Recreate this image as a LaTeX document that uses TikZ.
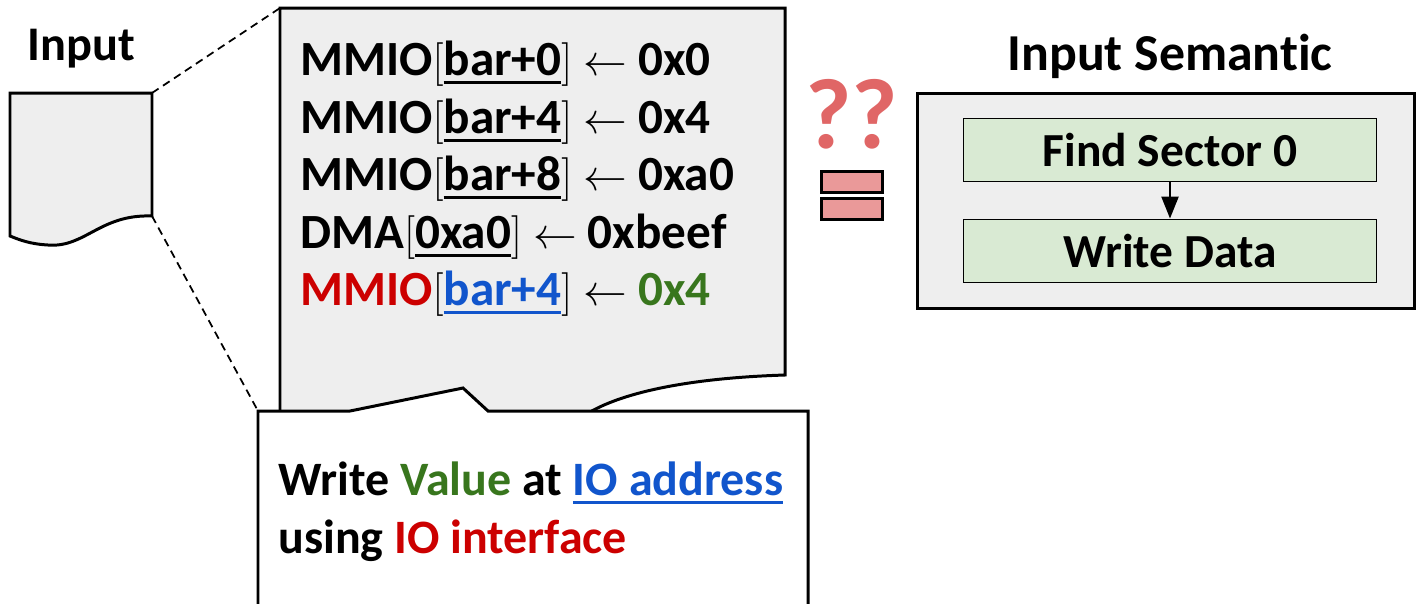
\documentclass[tikz,border=0pt]{standalone}
\usepackage{fontspec}
\setmainfont{Carlito}[Ligatures=NoCommon]
\usepackage{xcolor}
\usetikzlibrary{arrows.meta,positioning}

\definecolor{docgray}{HTML}{EEEEEE}
\definecolor{stepgreen}{HTML}{D9EAD3}
\definecolor{ifred}{HTML}{CC0000}
\definecolor{valgreen}{HTML}{38761D}
\definecolor{addrblue}{HTML}{1155CC}
\definecolor{askred}{HTML}{E06666}
\definecolor{eqred}{HTML}{EA9999}

% thick underline for addresses
\newcommand{\addr}[1]{\setbox0=\hbox{#1}\rlap{\rule[-5.3pt]{\wd0}{1.7pt}}\box0}
\newcommand{\iowrite}{\ $\leftarrow$\ }

\tikzset{
    doc/.style = {draw=black, fill=docgray, line width=1.7pt},
    callout/.style = {draw=black, fill=white, line width=1.7pt},
    zoom-line/.style = {draw=black, dash pattern=on 4.5pt off 3pt, line width=1pt},
    io-line/.style = {anchor=base west, inner sep=0pt, font=\fontsize{28}{32}\selectfont\bfseries},
    hint-line/.style = {anchor=base west, inner sep=0pt, font=\fontsize{27.3}{32}\selectfont\bfseries},
    title/.style = {anchor=base, inner sep=0pt, font=\fontsize{27.5}{32}\selectfont\bfseries},
    sem-step/.style = {draw=black, fill=stepgreen, line width=1.1pt, minimum width=413*0.02cm, minimum height=63*0.02cm, font=\fontsize{27}{30}\selectfont\bfseries},
    eq-bar/.style = {draw=black, fill=eqred, line width=1.7pt},
}

\begin{document}
\begin{tikzpicture}[x=0.02cm, y=-0.02cm]
\useasboundingbox (0,0) rectangle (1416,603);
\clip (0,0) rectangle (1416,603);

% small input document
\node[title] (input-title) at (81,60) {Input};
\draw[doc] (10,93) coordinate (in-nw) -- (152,93) coordinate (in-ne) -- (152,216) coordinate (in-se)
    .. controls (100,214) and (85,248) .. (48,245) .. controls (30,244) and (20,240) .. (10,236) -- cycle;

% big zoomed document
\draw[doc] (280,8) coordinate (big-nw) -- (785,8) -- (785,375)
    .. controls (690,378) and (625,392) .. (590,412) .. controls (500,460) and (380,430) .. (280,420) -- cycle;
\draw[zoom-line] (in-ne) -- (big-nw);

\node[io-line] (w1) at (300,75) {MMIO$[$\addr{bar+0}$]$\iowrite 0x0};
\node[io-line] (w2) at (300,133) {MMIO$[$\addr{bar+4}$]$\iowrite 0x4};
\node[io-line] (w3) at (300,190) {MMIO$[$\addr{bar+8}$]$\iowrite 0xa0};
\node[io-line] (w4) at (300,248) {DMA$[$\addr{0xa0}$]$\iowrite 0xbeef};
\node[io-line] (w5) at (300,305) {{\color{ifred}MMIO}$[${\color{addrblue}\addr{bar+4}}$]$\iowrite {\color{valgreen}0x4}};

% explanation callout
\draw[callout] (258,411) coordinate (call-nw) -- (350,411) -- (463,388) -- (488,411) -- (808,411) -- (808,620) -- (258,620) -- cycle;
\draw[zoom-line] (in-se) -- (call-nw);
\node[hint-line] (hint1) at (278,495) {Write {\color{valgreen}Value} at {\color{addrblue}\addr{IO address}}};
\node[hint-line] (hint2) at (278,553) {using {\color{ifred}IO interface}};

% ?? =
\node[inner sep=0pt, text=askred, font=\fontsize{57}{60}\selectfont\bfseries] (ask) at (852,114) {??};
\draw[eq-bar] (821,171) rectangle (882,192);
\draw[eq-bar] (821,198) rectangle (882,219);

% input semantic
\node[title, font=\fontsize{29.5}{32}\selectfont\bfseries] (sem-title) at (1170,70) {Input Semantic};
\draw[doc] (917,93) rectangle (1414,308);
\node[sem-step] (find) at (1170,150) {Find Sector 0};
\node[sem-step] (write) at (1170,251) {Write Data};
\draw[line width=1.4pt, -{Triangle[length=22*0.02cm, width=17*0.02cm]}] (find) -- (write);
\end{tikzpicture}
\end{document}
